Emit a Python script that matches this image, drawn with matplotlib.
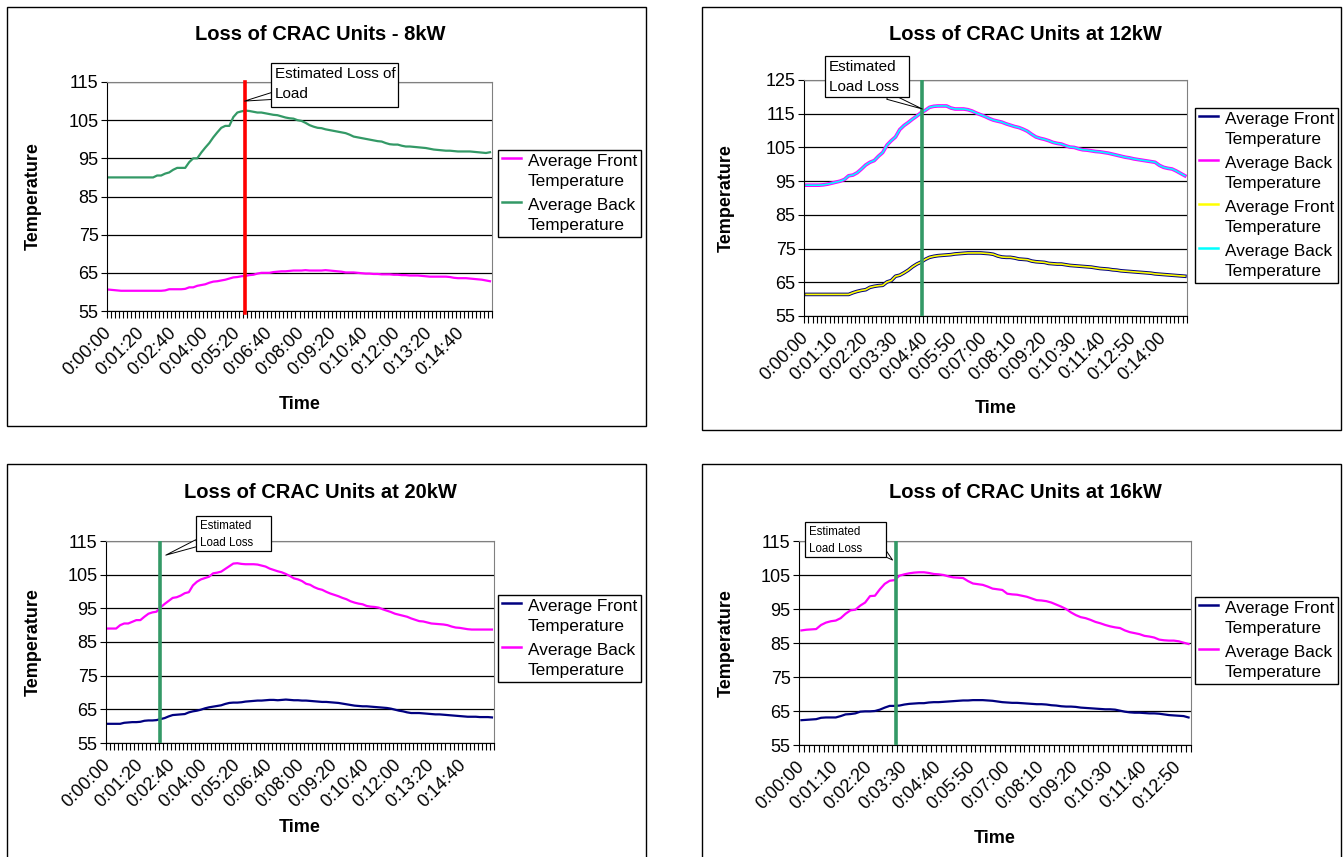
import matplotlib
matplotlib.use("Agg")
import matplotlib.pyplot as plt
from matplotlib.patches import Rectangle
from matplotlib.legend_handler import HandlerLine2D
from matplotlib.transforms import ScaledTranslation

plt.rcParams['font.family'] = ['Liberation Sans', 'DejaVu Sans']

W, H = 1344, 857
NAVY, MAGENTA, YELLOW, CYAN = '#000080', '#FF00FF', '#FFFF00', '#00FFFF'
SEA = '#339966'

# ---- 8kW (samples every 10 s) ----
front_8kw = [60.6, 60.5, 60.4, 60.3, 60.3, 60.3, 60.3, 60.3, 60.3, 60.3, 60.3, 60.3, 60.3, 60.3, 60.4,
             60.7, 60.7, 60.7, 60.7, 60.8,
             61.2, 61.2, 61.6, 61.8, 62.0,
             62.4, 62.7, 62.8, 63.0, 63.2,
             63.5, 63.8, 63.9, 64.1, 64.2,
             64.4, 64.5, 64.8, 65.0, 65.0,
             65.0, 65.2, 65.3, 65.4, 65.4,
             65.5, 65.6, 65.6, 65.6, 65.7,
             65.6, 65.6, 65.6, 65.6, 65.7,
             65.6, 65.5, 65.4, 65.3, 65.1,
             65.1, 65.1, 65.0, 64.9, 64.8,
             64.8, 64.7, 64.7, 64.6, 64.6,
             64.6, 64.5, 64.5, 64.4, 64.4,
             64.3, 64.3, 64.3, 64.2, 64.1,
             64.0, 64.0, 64.0, 64.0, 64.0,
             63.9, 63.7, 63.6, 63.6, 63.6,
             63.5, 63.4, 63.3, 63.2, 63.0, 62.8]
back_8kw = [90.0, 90.0, 90.0, 90.0, 90.0, 90.0, 90.0, 90.0, 90.0, 90.0, 90.0, 90.0,
            90.5, 90.5, 91.0, 91.3,
            92.0, 92.5, 92.5, 92.5,
            94.0, 95.0, 95.0, 96.5, 97.8,
            99.0, 100.5, 101.8, 103.0, 103.5,
            103.5, 105.8, 107.0, 107.3, 107.5,
            107.4, 107.2, 107.0, 107.0, 106.8,
            106.6, 106.4, 106.3, 106.0, 105.7,
            105.5, 105.4, 105.0, 104.8, 104.3,
            103.7, 103.3, 103.0, 102.9, 102.6,
            102.4, 102.2, 102.0, 101.8, 101.6,
            101.2, 100.7, 100.5, 100.3, 100.1,
            99.9, 99.7, 99.5, 99.4, 99.0,
            98.7, 98.6, 98.6, 98.3, 98.1,
            98.1, 98.0, 97.9, 97.8, 97.7,
            97.5, 97.3, 97.2, 97.1, 97.0,
            97.0, 96.9, 96.8, 96.8, 96.8,
            96.8, 96.7, 96.6, 96.5, 96.4, 96.6]
labels_8kw = ["0:00:00", "0:01:20", "0:02:40", "0:04:00", "0:05:20", "0:06:40",
              "0:08:00", "0:09:20", "0:10:40", "0:12:00", "0:13:20", "0:14:40"]

# ---- 12kW ----
back_12kw = [93.8, 93.8, 93.8, 93.8, 93.9, 94.1, 94.4, 94.7, 95.0, 95.5,
             96.6, 96.8, 97.5, 98.6, 99.8, 100.6, 101.1, 102.4, 103.5, 105.7,
             107.0, 108.1, 110.3, 111.5, 112.4, 113.4, 114.3, 115.3, 116.0, 116.9,
             117.2, 117.3, 117.3, 117.3, 116.7, 116.4, 116.4, 116.4, 116.2, 115.8,
             115.2, 114.7, 114.2, 113.6, 113.1, 112.8, 112.5, 112.0, 111.6, 111.2,
             110.9, 110.4, 109.8, 108.9, 108.1, 107.7, 107.4, 107.0, 106.5, 106.2,
             106.0, 105.5, 105.1, 105.0, 104.6, 104.3, 104.2, 104.0, 103.8, 103.7,
             103.5, 103.3, 103.0, 102.7, 102.4, 102.1, 101.9, 101.6, 101.4, 101.2,
             101.0, 100.8, 100.6, 99.7, 99.1, 98.8, 98.6, 98.0, 97.3, 96.6]
front_12kw = [61.4, 61.4, 61.4, 61.4, 61.4, 61.4, 61.4, 61.4, 61.4, 61.4, 61.4,
              61.9, 62.3, 62.6, 62.8, 63.5, 63.8, 64.0, 64.1, 65.1,
              65.5, 66.8, 67.1, 67.8, 68.6, 69.6, 70.4, 71.0, 71.8, 72.4,
              72.7, 72.9, 73.0, 73.1, 73.2, 73.4, 73.5, 73.6, 73.7, 73.7,
              73.7, 73.7, 73.6, 73.5, 73.3, 72.8, 72.5, 72.4, 72.4, 72.2,
              71.9, 71.8, 71.7, 71.3, 71.1, 71.0, 70.9, 70.6, 70.5, 70.4,
              70.4, 70.2, 70.0, 69.9, 69.8, 69.7, 69.6, 69.5, 69.3, 69.1,
              69.0, 68.9, 68.7, 68.6, 68.4, 68.3, 68.2, 68.1, 68.0, 67.9,
              67.8, 67.7, 67.5, 67.4, 67.3, 67.2, 67.1, 67.0, 66.9, 66.8]
labels_12kw = ["0:00:00", "0:01:10", "0:02:20", "0:03:30", "0:04:40", "0:05:50", "0:07:00",
               "0:08:10", "0:09:20", "0:10:30", "0:11:40", "0:12:50", "0:14:00"]

# ---- 20kW ----
back_20kw = [89.0, 89.0, 89.0, 90.0, 90.5, 90.5, 91.0, 91.5, 91.5, 92.5,
             93.4, 93.8, 94.0, 95.3, 96.3, 97.2, 98.1, 98.3, 98.8, 99.5,
             99.8, 101.8, 102.9, 103.6, 104.0, 104.4, 105.4, 105.6, 105.9, 106.7,
             107.5, 108.3, 108.4, 108.2, 108.1, 108.1, 108.1, 108.0, 107.7, 107.4,
             106.8, 106.4, 106.0, 105.7, 105.2, 104.6, 103.9, 103.6, 103.1, 102.3,
             102.0, 101.3, 100.8, 100.5, 99.9, 99.4, 99.0, 98.6, 98.1, 97.7,
             97.1, 96.7, 96.4, 96.2, 95.7, 95.5, 95.4, 95.2, 94.7, 94.3,
             93.9, 93.4, 93.1, 92.8, 92.5, 92.0, 91.6, 91.2, 91.1, 90.8,
             90.5, 90.4, 90.3, 90.2, 90.0, 89.6, 89.3, 89.2, 89.0, 88.8,
             88.7, 88.7, 88.7, 88.7, 88.7, 88.7]
front_20kw = [60.7, 60.7, 60.7, 60.7, 61.0, 61.1, 61.2, 61.2, 61.3, 61.6,
              61.7, 61.7, 61.8, 62.1, 62.4, 62.9, 63.3, 63.4, 63.5, 63.6,
              64.1, 64.4, 64.6, 64.9, 65.3, 65.6, 65.8, 66.0, 66.2, 66.6,
              66.9, 67.0, 67.0, 67.1, 67.3, 67.4, 67.5, 67.6, 67.6, 67.7,
              67.8, 67.8, 67.7, 67.8, 67.9, 67.8, 67.7, 67.7, 67.6, 67.6,
              67.5, 67.4, 67.3, 67.2, 67.2, 67.1, 67.0, 66.9, 66.7, 66.5,
              66.3, 66.1, 66.0, 65.9, 65.9, 65.8, 65.7, 65.6, 65.5, 65.4,
              65.2, 64.9, 64.6, 64.4, 64.1, 63.9, 63.9, 63.9, 63.8, 63.7,
              63.6, 63.5, 63.5, 63.4, 63.3, 63.2, 63.1, 63.0, 62.9, 62.8,
              62.8, 62.8, 62.7, 62.7, 62.7, 62.6]
labels_20kw = labels_8kw

# ---- 16kW ----
back_16kw = [88.7, 88.9, 89.0, 89.1, 90.3, 91.0, 91.4, 91.6, 92.3, 93.6,
             94.6, 94.8, 96.0, 96.9, 98.8, 98.9, 100.8, 102.4, 103.3, 103.5,
             104.8, 105.2, 105.5, 105.7, 105.8, 105.8, 105.6, 105.3, 105.2, 105.0,
             104.6, 104.3, 104.2, 104.1, 103.2, 102.5, 102.3, 102.1, 101.6, 101.0,
             100.8, 100.6, 99.5, 99.3, 99.2, 98.9, 98.6, 98.1, 97.6, 97.5,
             97.3, 96.9, 96.3, 95.7, 95.0, 94.0, 93.2, 92.6, 92.3, 91.8,
             91.2, 90.8, 90.3, 89.9, 89.6, 89.4, 88.7, 88.2, 87.9, 87.6,
             87.1, 86.9, 86.6, 86.0, 85.8, 85.7, 85.7, 85.5, 85.1, 84.7]
front_16kw = [62.3, 62.4, 62.5, 62.6, 63.0, 63.1, 63.1, 63.1, 63.5, 64.0,
              64.1, 64.3, 64.8, 64.9, 64.9, 65.0, 65.4, 66.0, 66.5, 66.5,
              66.6, 66.9, 67.1, 67.2, 67.3, 67.3, 67.5, 67.6, 67.6, 67.7,
              67.8, 67.9, 68.0, 68.1, 68.1, 68.2, 68.2, 68.2, 68.1, 68.0,
              67.8, 67.6, 67.5, 67.4, 67.4, 67.3, 67.2, 67.1, 67.0, 67.0,
              66.9, 66.7, 66.6, 66.4, 66.3, 66.3, 66.2, 66.0, 65.9, 65.8,
              65.7, 65.6, 65.5, 65.5, 65.4, 65.1, 64.8, 64.6, 64.5, 64.5,
              64.4, 64.3, 64.3, 64.2, 64.0, 63.8, 63.7, 63.6, 63.5, 63.1]
labels_16kw = labels_12kw[:12]

# category index where the load was lost (drawn lines)
loss_8kw, loss_12kw, loss_20kw, loss_16kw = 34.3, 27.8, 13.4, 19.7

fig = plt.figure(figsize=(W / 100, H / 100), dpi=100)


class FirstLineHandler(HandlerLine2D):
    # put the legend sample next to the first line of a two-line label
    def create_artists(self, legend, orig_handle, xdescent, ydescent, width, height, fontsize, trans):
        arts = super().create_artists(legend, orig_handle, xdescent, ydescent, width, height, fontsize, trans)
        for a in arts:
            a.set_ydata([y + 0.78 * fontsize for y in a.get_ydata()])
            a.set_linewidth(1.8)
        return arts


def px_axes(x0, y0, x1, y1):
    # pixel box (origin top-left) -> figure axes
    return fig.add_axes([x0 / W, 1 - y1 / H, (x1 - x0) / W, (y1 - y0) / H])


def px_rect(x0, y0, x1, y1, **kw):
    r = Rectangle((x0 / W, 1 - y1 / H), (x1 - x0) / W, (y1 - y0) / H,
                  transform=fig.transFigure, ec='black', **kw)
    fig.patches.append(r)


def setup(ax, n, ticklabels, step, ylim, ylab_x, xlab_y):
    ax.set_xlim(0, n)
    ax.set_ylim(*ylim)
    ax.set_yticks(range(ylim[0], ylim[1] + 1, 10))
    ax.yaxis.grid(True, color='black', lw=0.9)
    ax.set_axisbelow(True)
    ax.set_xticks([i * step + 0.5 for i in range(len(ticklabels))])
    ax.set_xticklabels(ticklabels, rotation=45, ha='right', va='center', rotation_mode='anchor')
    shift = ScaledTranslation(-4 / 100, 0, fig.dpi_scale_trans)
    for lab in ax.get_xticklabels():
        lab.set_transform(lab.get_transform() + shift)
    ax.set_xticks(range(n + 1), minor=True)
    ax.tick_params(axis='x', which='major', length=0, pad=14, labelsize=13)
    ax.tick_params(axis='x', which='minor', length=5, width=0.8)
    ax.tick_params(axis='y', length=4, labelsize=13, pad=2)
    for s in ('top', 'right'):
        ax.spines[s].set_color('#808080')
    ax.set_ylabel('Temperature', fontsize=13, fontweight='bold')
    ax.yaxis.set_label_coords(ylab_x, 0.5)
    ax.set_xlabel('Time', fontsize=13, fontweight='bold')
    ax.xaxis.set_label_coords(0.5, xlab_y)


def legend(ax, x0, y0):
    leg = ax.legend(loc='upper left', bbox_to_anchor=(x0 / W, 1 - y0 / H),
                    bbox_transform=fig.transFigure, fancybox=False, edgecolor='black',
                    framealpha=1, fontsize=12.4, handlelength=1.1, handletextpad=0.4,
                    borderpad=0.22, labelspacing=0.5, borderaxespad=0,
                    handler_map={matplotlib.lines.Line2D: FirstLineHandler()})
    leg.get_frame().set_linewidth(1.0)
    for t in leg.get_texts():
        t.set_linespacing(1.45)


def callout(ax, text, tip, box, base, fs):
    # Excel-style callout: white box, text, wedge pointing at the data
    x0, y0, x1, y1 = box
    ax.annotate('', xy=tip, xycoords='data', xytext=(base[0], H - base[1]),
                textcoords='figure pixels',
                arrowprops=dict(arrowstyle='wedge,tail_width=0.5', fc='white', ec='black',
                                lw=0.7, shrinkA=0, shrinkB=0),
                annotation_clip=False, zorder=6)
    px_rect(x0, y0, x1, y1, fc='white', lw=0.9, zorder=2)
    fig.text((x0 + 4) / W, 1 - (y0 + 4) / H, text, ha='left', va='top', fontsize=fs,
             linespacing=1.55, zorder=3)


def title(x, y, s):
    fig.text(x / W, 1 - y / H, s, ha='center', va='center', fontsize=14.5, fontweight='bold')


# ---- top left: 8kW ----
px_rect(7, 7, 646, 426, fill=False, lw=1.0)
title(320, 35, 'Loss of CRAC Units - 8kW')
ax = px_axes(107, 82, 492, 311)
x = [i + 0.5 for i in range(len(back_8kw))]
ax.plot(x, front_8kw, color=MAGENTA, lw=1.6, label='Average Front\nTemperature')
ax.plot(x, back_8kw, color=SEA, lw=1.6, label='Average Back\nTemperature')
ax.axvline(loss_8kw, ymin=-0.01, ymax=1, color='#FF0000', lw=2.6, clip_on=False, zorder=4)
setup(ax, len(back_8kw), labels_8kw, 8, (55, 115), -0.17, -0.37)
legend(ax, 498, 150)
callout(ax, 'Estimated Loss of\nLoad', (loss_8kw, 110), (271, 63, 398, 107), (272, 96), 11)

# ---- top right: 12kW ----
px_rect(702, 7, 1341, 430, fill=False, lw=1.0)
title(1025, 35, 'Loss of CRAC Units at 12kW')
ax = px_axes(804, 80, 1187, 316)
x = [i + 0.5 for i in range(len(back_12kw))]
ax.plot(x, front_12kw, color=NAVY, lw=2.6, label='Average Front\nTemperature')
ax.plot(x, back_12kw, color=MAGENTA, lw=2.6, label='Average Back\nTemperature')
ax.plot(x, front_12kw, color=YELLOW, lw=1.2, label='Average Front\nTemperature')
ax.plot(x, back_12kw, color=CYAN, lw=1.2, label='Average Back\nTemperature')
ax.axvline(loss_12kw, color=SEA, lw=2.6, zorder=4)
setup(ax, len(back_12kw), labels_12kw, 7, (55, 125), -0.18, -0.356)
legend(ax, 1195, 108)
callout(ax, 'Estimated\nLoad Loss', (loss_12kw, 116.4), (825, 56, 909, 97), (888, 96), 11)

# ---- bottom left: 20kW ----
px_rect(7, 464, 646, 870, fill=False, lw=1.0)
title(320, 493, 'Loss of CRAC Units at 20kW')
ax = px_axes(106, 541, 494, 743)
x = [i + 0.5 for i in range(len(back_20kw))]
ax.plot(x, front_20kw, color=NAVY, lw=1.6, label='Average Front\nTemperature')
ax.plot(x, back_20kw, color=MAGENTA, lw=1.6, label='Average Back\nTemperature')
ax.axvline(loss_20kw, color=SEA, lw=2.6, zorder=4)
setup(ax, len(back_20kw), labels_20kw, 8, (55, 115), -0.165, -0.376)
legend(ax, 498, 595)
callout(ax, 'Estimated\nLoad Loss', (14.8, 110.8), (196, 516, 271, 551), (197, 543), 8.3)

# ---- bottom right: 16kW ----
px_rect(702, 464, 1341, 870, fill=False, lw=1.0)
title(1025, 492, 'Loss of CRAC Units at 16kW')
ax = px_axes(799, 541, 1191, 745)
x = [i + 0.5 for i in range(len(back_16kw))]
ax.plot(x, front_16kw, color=NAVY, lw=1.6, label='Average Front\nTemperature')
ax.plot(x, back_16kw, color=MAGENTA, lw=1.6, label='Average Back\nTemperature')
ax.axvline(loss_16kw, color=SEA, lw=2.6, zorder=4)
setup(ax, len(back_16kw), labels_16kw, 7, (55, 115), -0.163, -0.417)
legend(ax, 1195, 597)
callout(ax, 'Estimated\nLoad Loss', (19.1, 109.4), (805, 522, 886, 557), (883, 552), 8.3)

fig.savefig('out.png', dpi=100)
